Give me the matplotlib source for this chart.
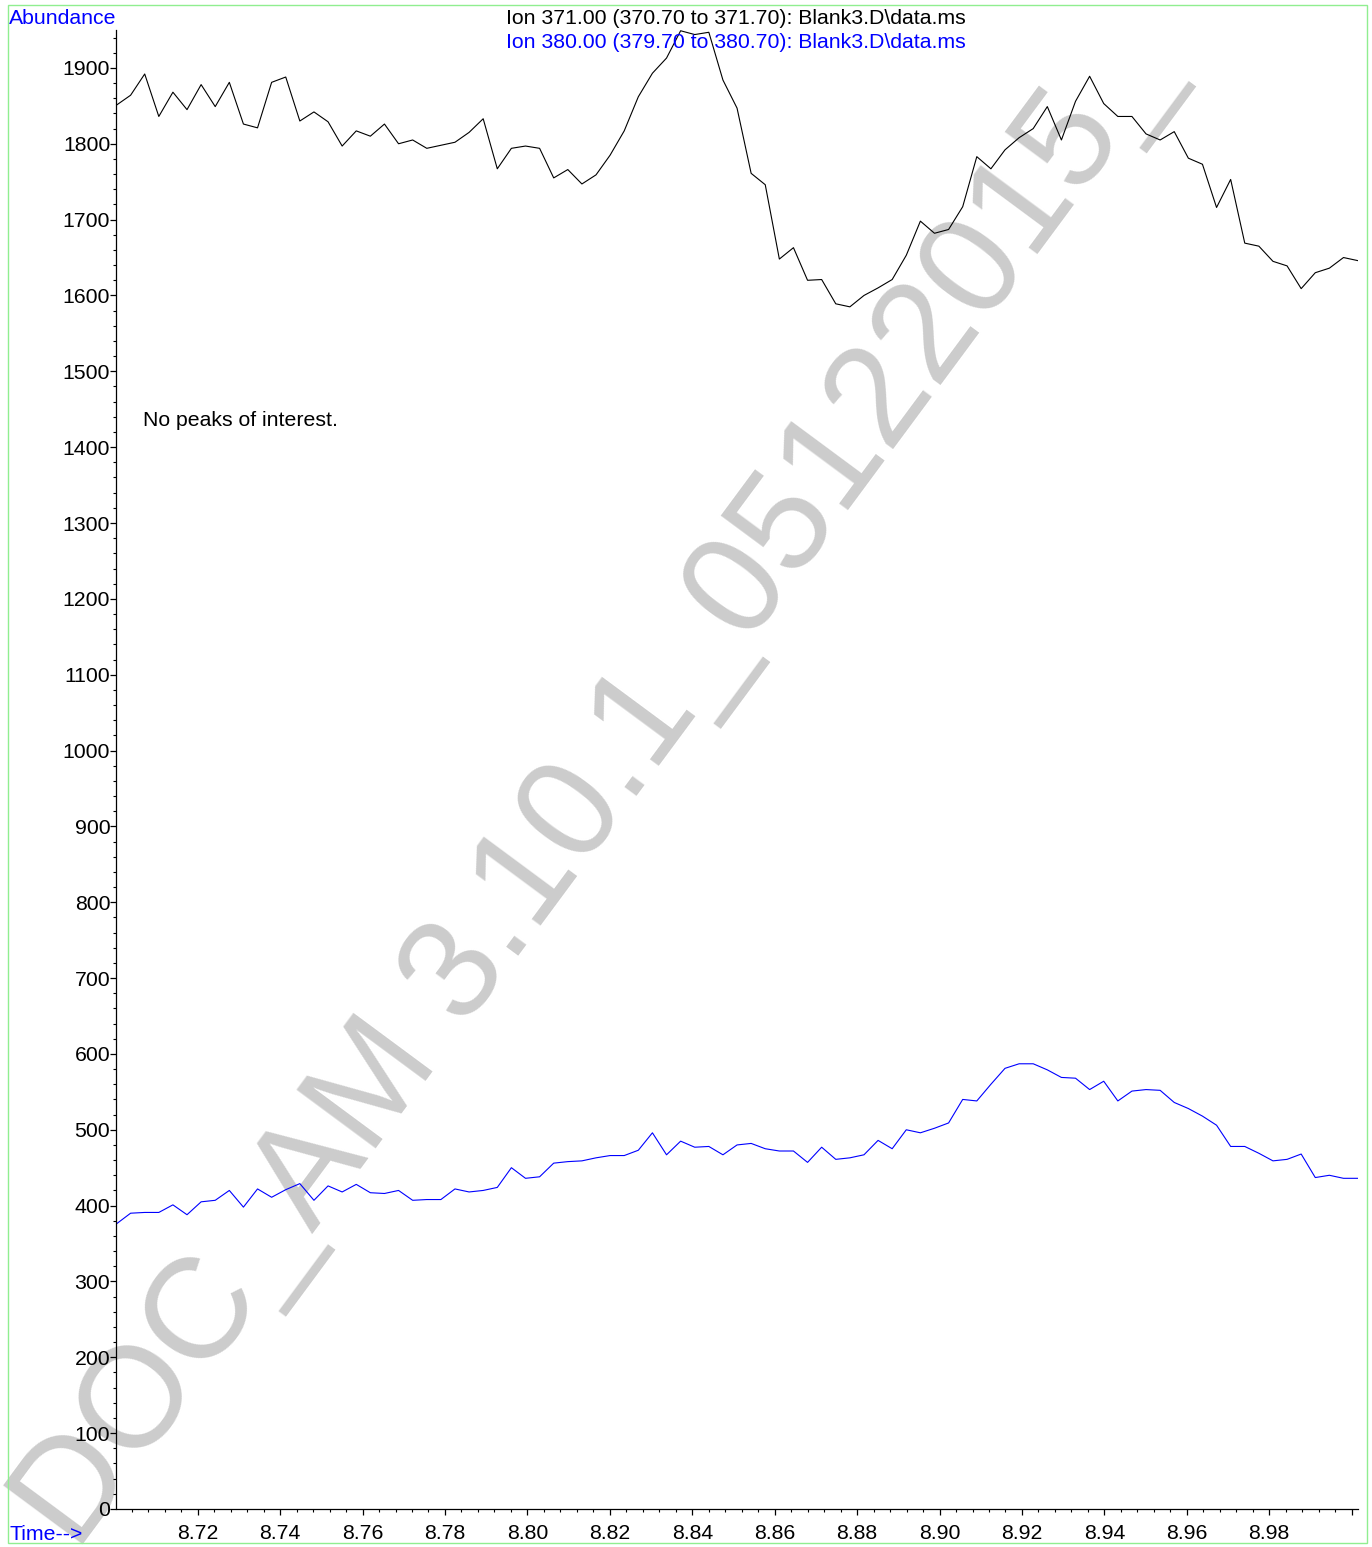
import matplotlib
matplotlib.use("Agg")
import matplotlib.pyplot as plt
import numpy as np
from matplotlib.patches import Rectangle
from matplotlib.ticker import MultipleLocator

plt.rcParams['font.family'] = ['Liberation Sans', 'DejaVu Sans']

# scan timing (min)
t_start = 8.7003
t_step = 0.003422

ion371 = [1851, 1864, 1892, 1836, 1868, 1845, 1878, 1849, 1881, 1826,
          1821, 1881, 1888, 1830, 1842, 1829, 1797, 1817, 1810, 1826,
          1800, 1805, 1794, 1798, 1802, 1815, 1833, 1767, 1794, 1797,
          1794, 1755, 1766, 1747, 1759, 1785, 1817, 1862, 1893, 1913,
          1949, 1944, 1947, 1884, 1847, 1761, 1746, 1648, 1663, 1620,
          1621, 1589, 1585, 1600, 1610, 1621, 1653, 1698, 1682, 1687,
          1717, 1783, 1767, 1792, 1808, 1820, 1849, 1805, 1856, 1889,
          1853, 1836, 1836, 1813, 1805, 1816, 1781, 1773, 1716, 1753,
          1669, 1665, 1645, 1639, 1609, 1630, 1636, 1650, 1646]

ion380 = [376, 390, 391, 391, 401, 388, 405, 407, 420, 398,
          422, 411, 421, 429, 407, 426, 418, 428, 417, 416,
          420, 407, 408, 408, 422, 418, 420, 424, 450, 436,
          438, 456, 458, 459, 463, 466, 466, 473, 496, 467,
          485, 477, 478, 467, 480, 482, 475, 472, 472, 457,
          477, 461, 463, 467, 486, 475, 500, 496, 502, 509,
          540, 538, 560, 581, 587, 587, 579, 569, 568, 553,
          564, 538, 551, 553, 552, 536, 528, 518, 506, 478,
          478, 469, 459, 461, 468, 437, 440, 436, 436]

times = t_start + t_step * np.arange(len(ion371))

x_ticks = [8.72, 8.74, 8.76, 8.78, 8.80, 8.82, 8.84, 8.86, 8.88, 8.90,
           8.92, 8.94, 8.96, 8.98]
y_ticks = list(range(0, 2000, 100))

title1 = "Ion 371.00 (370.70 to 371.70): Blank3.D\\data.ms"
title2 = "Ion 380.00 (379.70 to 380.70): Blank3.D\\data.ms"
note = "No peaks of interest."
watermark = "DOC_AM 3.10.1_05122015_"

W, H = 1372, 1547
fig = plt.figure(figsize=(W / 100, H / 100), dpi=100)

def fx(px):
    return px / W

def fy(py):
    return 1 - py / H

FS = 15.3

ax = fig.add_axes([fx(116.5), fy(1509), fx(1358) - fx(116.5), fy(30) - fy(1509)])
ax.set_zorder(1)
ax.patch.set_alpha(0)

ax.plot(times, ion371, color='black', lw=0.8)
ax.plot(times, ion380, color='blue', lw=0.8)

ax.set_xlim(t_start, times[-1] + 0.0001)
ax.set_ylim(0, 1950)

for s in ['top', 'right']:
    ax.spines[s].set_visible(False)
for s in ['left', 'bottom']:
    ax.spines[s].set_linewidth(0.9)

ax.set_xticks(x_ticks + [9.00])
ax.set_xticklabels([f"{v:.2f}" for v in x_ticks] + [""])
ax.xaxis.set_minor_locator(MultipleLocator(0.004))
ax.set_yticks(y_ticks)
ax.set_yticklabels([str(v) for v in y_ticks])
ax.yaxis.set_minor_locator(MultipleLocator(20))
ax.tick_params(axis='both', which='major', direction='out', length=4.3, width=0.9,
               labelsize=FS)
ax.tick_params(axis='y', which='major', pad=0.2)
ax.tick_params(axis='x', which='major', pad=6.5)
ax.tick_params(axis='both', which='minor', direction='out', length=2.4, width=0.8)

fig.text(fx(9), fy(18), "Abundance", color='blue', fontsize=FS, va='center', ha='left')
fig.text(fx(9), fy(1534), "Time-->", color='blue', fontsize=FS, va='center', ha='left')
fig.text(fx(506), fy(18), title1, color='black', fontsize=FS, va='center', ha='left')
fig.text(fx(506), fy(43), title2, color='blue', fontsize=FS, va='center', ha='left')
fig.text(fx(143), fy(421), note, color='black', fontsize=FS, va='center', ha='left')

fig.text(fx(625), fy(812), watermark, color='#cccccc', fontsize=103, rotation=53.5,
         rotation_mode='anchor', ha='center', va='baseline', zorder=0)

fig.patches.append(Rectangle((fx(8), fy(1543)), fx(1367) - fx(8), fy(5) - fy(1543),
                             transform=fig.transFigure, fill=False,
                             edgecolor='#90ee90', lw=1.0, zorder=5))

fig.savefig("out.png", dpi=100)
